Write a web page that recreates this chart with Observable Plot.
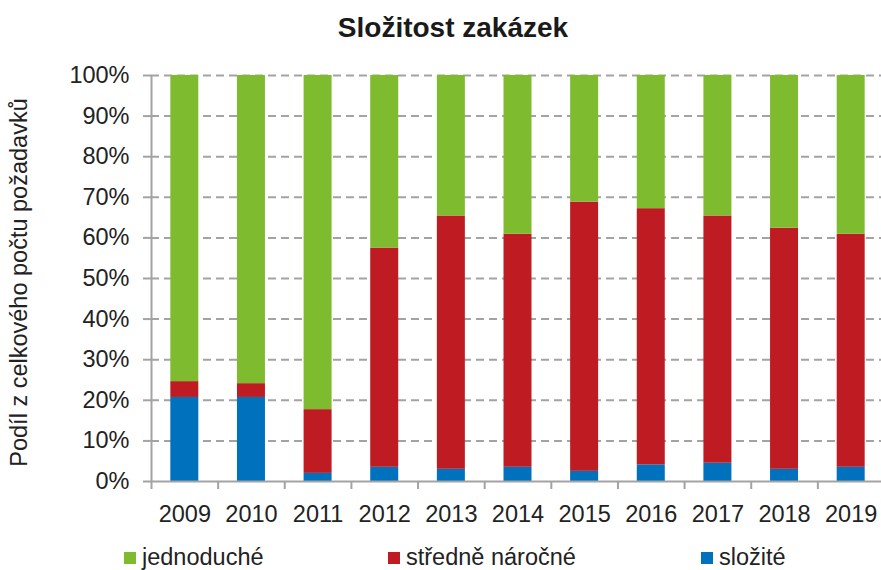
<!DOCTYPE html>
<html><head><meta charset="utf-8">
<script src="https://cdn.jsdelivr.net/npm/d3@7"></script>
<script src="https://cdn.jsdelivr.net/npm/@observablehq/plot@0.6"></script>
<style>
body{margin:0;background:#fff;font-family:"Liberation Sans",Arial,sans-serif;}
#wrap{position:relative;width:881px;height:570px;overflow:hidden;background:#fff}
#title{height:55px;position:relative}
#title span{position:absolute;left:0;width:906px;text-align:center;top:12px;font-size:28px;font-weight:bold;color:#1a1a1a;line-height:normal}
#chart{height:476px}
#legend{position:relative;height:39px}
.sw{position:absolute;top:21px;width:12px;height:12px}
.lt{position:absolute;top:13px;font-size:23.5px;color:#222;line-height:normal;white-space:nowrap}
</style>
</head><body>
<div id="wrap">
  <div id="title"><span>Složitost zakázek</span></div>
  <div id="chart"></div>
  <div id="legend"></div>
</div>
<script>
const years = [2009, 2010, 2011, 2012, 2013, 2014, 2015, 2016, 2017, 2018, 2019];
const seriesNames = ["složité", "středně náročné", "jednoduché"];
const seriesColors = ["#0071bc", "#bf1b23", "#7fbb2e"];
const slozite     = [20.7, 20.7, 2.0, 3.5, 3.0, 3.5, 2.5, 4.1, 4.5, 3.0, 3.5];
const stredne     = [3.9, 3.4, 15.7, 54.0, 62.4, 57.4, 66.3, 63.1, 60.9, 59.4, 57.4];
const jednoduche  = [75.4, 75.9, 82.3, 42.5, 34.6, 39.1, 31.2, 32.8, 34.6, 37.6, 39.1];
const yTicks = [0, 10, 20, 30, 40, 50, 60, 70, 80, 90, 100];
const yTitle = "Podíl z celkového počtu požadavků";
const legendOrder = ["jednoduché", "středně náročné", "složité"];

const seriesValues = [slozite, stredne, jednoduche];
const rows = [];
years.forEach((yr, i) => {
  seriesNames.forEach((s, j) => rows.push({year: yr, series: s, value: seriesValues[j][i]}));
});

const W = 881, H = 476, ML = 151, MR = -3, MT = 20, MB = 50;
const step = (W - ML - MR) / years.length;
const gray = "#a3a3a3";
const font = '"Liberation Sans", Arial, sans-serif';

const chart = Plot.plot({
  width: W, height: H,
  marginLeft: ML, marginRight: MR, marginTop: MT, marginBottom: MB,
  style: {fontFamily: font, fontSize: "23.5px", color: "#222", background: "transparent", overflow: "visible"},
  x: {type: "band", domain: years, paddingInner: 0.58, paddingOuter: 0.29, round: false, label: null},
  y: {domain: [0, 100], label: null},
  color: {domain: seriesNames, range: seriesColors},
  marks: [
    Plot.gridY(yTicks.slice(1), {stroke: gray, strokeOpacity: 1, strokeWidth: 2, strokeDasharray: "8,5"}),
    Plot.barY(rows, {x: "year", y: "value", fill: "series", order: seriesNames}),
    Plot.ruleY([0], {stroke: gray, strokeWidth: 2}),
    Plot.ruleX([years[0]], {dx: -step / 2, y1: 0, y2: 100, stroke: gray, strokeWidth: 2}),
    Plot.axisY({ticks: yTicks, tickSize: 8, tickPadding: 14, tickFormat: d => d + "%", stroke: gray, strokeWidth: 2, label: null, fontSize: 23.5}),
    Plot.axisX({tickSize: 8, dx: -step / 2, tickFormat: () => "", stroke: gray, strokeWidth: 2, label: null}),
    Plot.axisX({tickSize: 0, tickPadding: 24, tickFormat: d => String(d), label: null, fontSize: 23.5}),
    Plot.text([yTitle], {frameAnchor: "left", textAnchor: "middle", rotate: -90, dx: -141, dy: 4, lineAnchor: "top", fontSize: 23.5, fill: "#222"})
  ]
});
document.getElementById("chart").appendChild(chart);

const legendPos = [[124, 142], [388, 406], [701, 719]];
const leg = document.getElementById("legend");
legendOrder.forEach((name, i) => {
  const sw = document.createElement("div");
  sw.className = "sw";
  sw.style.left = legendPos[i][0] + "px";
  sw.style.background = seriesColors[seriesNames.indexOf(name)];
  const t = document.createElement("div");
  t.className = "lt";
  t.style.left = legendPos[i][1] + "px";
  t.textContent = name;
  leg.appendChild(sw); leg.appendChild(t);
});
</script>
</body></html>
